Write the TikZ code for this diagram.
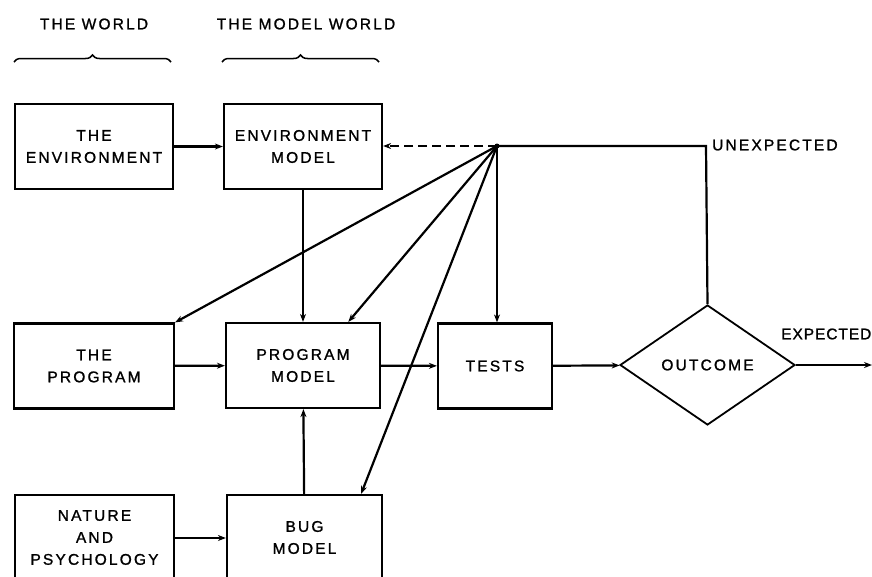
\documentclass[tikz,border=0pt]{standalone}
\usepackage{fontspec}
\setmainfont{Liberation Sans}[LetterSpace=14,FakeBold=1.2]
\usetikzlibrary{arrows.meta,shapes.geometric,decorations.pathreplacing,calc}
\begin{document}
\begin{tikzpicture}[x=1pt,y=-1pt,
  txt/.style={font=\fontsize{15.5}{22}\selectfont},
  box/.style={draw,line width=2.2pt,minimum width=158pt,minimum height=85pt,align=center,inner sep=0pt,txt},
  lbl/.style={txt,inner sep=0pt},
  conn/.style={line width=2.2pt,-{Stealth[length=8pt,width=6pt]}},
  plain/.style={line width=2.2pt},
  brc/.style={decorate,decoration={brace,amplitude=7pt},line width=1.5pt}]
\useasboundingbox (0,0) rectangle (872,576);
\clip (0,0) rectangle (872,576);
% titles and braces
\node[lbl] (tw) at (94,24) {THE WORLD};
\node[lbl] (tmw) at (306,24) {THE MODEL WORLD};
\coordinate (b1a) at (14,62);
\coordinate (b1b) at (171,62);
\coordinate (b2a) at (222,62);
\coordinate (b2b) at (379,62);
\draw[brc] (b1a) -- (b1b);
\draw[brc] (b2a) -- (b2b);
% boxes
\node[box] (env) at (94,146.5) {THE\\ENVIRONMENT};
\node[box] (envm) at (303,146.5) {ENVIRONMENT\\MODEL};
\node[box,minimum width=160pt] (prog) at (94,366) {THE\\PROGRAM};
\node[box,minimum width=154pt] (pm) at (303,365.5) {PROGRAM\\MODEL};
\node[box,minimum width=114pt] (tests) at (495,366) {TESTS};
\node[draw,diamond,line width=1.8pt,minimum width=175pt,minimum height=120pt,inner sep=0pt,txt,aspect=1.46] (out) at (707.5,365) {OUTCOME};
\node[box,minimum width=159pt] (nat) at (94.5,537.5) {NATURE\\AND\\PSYCHOLOGY};
\node[box,minimum width=155pt] (bug) at (304.5,537.5) {BUG\\MODEL};
% hub
\coordinate (hub) at (497,146);
\coordinate (unx) at (706,146);
\coordinate (exp) at (872,365);
\node[lbl,anchor=west] (unl) at (712,145) {UNEXPECTED};
\node[lbl,anchor=east,font=\fontsize{15.5}{22}\selectfont\addfontfeature{LetterSpace=6}] (expl) at (871.5,334) {EXPECTED};
% connectors
\draw[conn] (env) -- (envm);
\draw[conn] (envm) -- (pm);
\draw[conn] (prog) -- (pm);
\draw[conn] (pm) -- (tests);
\draw[conn] (tests) -- (out);
\draw[conn] (out) -- (exp);
\draw[conn] (bug) -- (pm);
\draw[conn] (nat.east |- 0,538) -- (bug.west |- 0,538);
\draw[plain] (out.north) -- (unx) -- (hub);
\draw[conn,dashed,dash pattern=on 9pt off 5pt] (hub) -- (envm.east |- hub);
\draw[conn] (hub) -- (prog.north east);
\draw[conn] (hub) -- ($(pm.north west)!0.79!(pm.north east)$);
\draw[conn] (hub) -- (tests.north -| hub);
\draw[conn] (hub) -- ($(bug.north west)!0.86!(bug.north east)$);
\fill (hub) circle (2.5pt);
\end{tikzpicture}
\end{document}
